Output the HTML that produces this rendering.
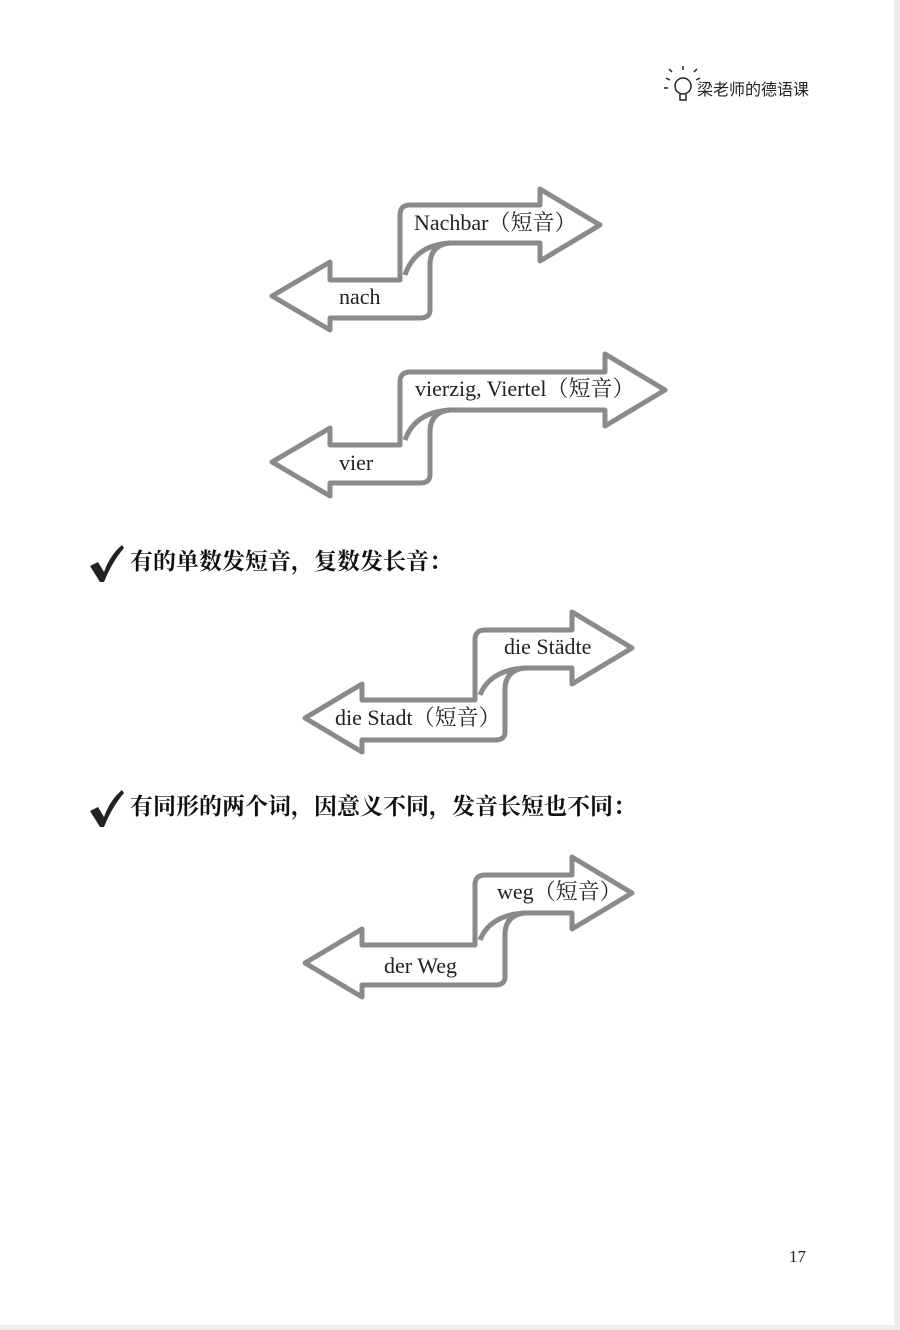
<!DOCTYPE html>
<html><head><meta charset="utf-8"><style>
html,body{margin:0;padding:0;background:#fff;}
body{width:900px;height:1330px;position:relative;overflow:hidden;font-family:"Liberation Serif","Noto Serif CJK SC",serif;}
.t{position:absolute;font-size:22px;color:#222;white-space:nowrap;line-height:1;}
.h{position:absolute;font-family:"Liberation Serif","Noto Serif CJK SC",serif;font-weight:bold;font-size:23px;color:#111;white-space:nowrap;line-height:1;}
</style></head><body>
<div style="position:absolute;right:0;top:0;width:6px;height:1330px;background:#eee"></div>
<div style="position:absolute;left:0;bottom:0;width:900px;height:5px;background:#eee"></div>
<svg width="900" height="1330" style="position:absolute;left:0;top:0">
<g fill="#fff" stroke="#8a8a8a" stroke-width="5" stroke-linejoin="round">
<path d="M272,296 L330,262 L330,280 L400,280 L400,215 Q400,205 410,205 L540,205 L540,189 L600,225 L540,261 L540,243 L450,243 Q430,245 430,265 L430,310 Q430,318 420,318 L330,318 L330,330 Z"/>
<path d="M405,275 Q415,245 450,243" fill="none"/>
<path d="M272,462 L330,428 L330,445 L400,445 L400,382 Q400,372 410,372 L605,372 L605,354 L665,390 L605,426 L605,410 L450,410 Q430,412 430,432 L430,475 Q430,483 420,483 L330,483 L330,496 Z"/>
<path d="M405,440 Q415,412 450,410" fill="none"/>
<path d="M305,718 L362,684 L362,700 L475,700 L475,640 Q475,630 485,630 L572,630 L572,612 L632,648 L572,684 L572,668 L525,668 Q505,670 505,690 L505,732 Q505,740 495,740 L362,740 L362,752 Z"/>
<path d="M480,695 Q490,670 525,668" fill="none"/>
<path d="M305,963 L362,929 L362,945 L475,945 L475,885 Q475,875 485,875 L572,875 L572,857 L632,893 L572,929 L572,913 L525,913 Q505,915 505,935 L505,977 Q505,985 495,985 L362,985 L362,997 Z"/>
<path d="M480,940 Q490,915 525,913" fill="none"/>
</g>
<g stroke="#222" stroke-width="1.5" fill="none">
<circle cx="683" cy="86" r="8"/>
<path d="M680,94 L680,100 L686,100 L686,94"/>
<path d="M670,80 l-4,-2 M672,72 l-3,-3 M683,70 v-4 M694,72 l3,-3 M696,80 l4,-2 M668,88 h-4"/>
</g>
<path d="M90,566 L98,562 L104,572 Q110,555 122,545 L124,548 Q112,562 104,582 L100,582 Z" fill="#222"/>
<path d="M90,811 L98,807 L104,817 Q110,800 122,790 L124,793 Q112,807 104,827 L100,827 Z" fill="#222"/>
</svg>
<div class="t" style="left:697px;top:80px;font-size:16px;font-family:'Noto Sans CJK SC',sans-serif">梁老师的德语课</div>
<div class="t" style="left:414px;top:212px">Nachbar（短音）</div>
<div class="t" style="left:339px;top:286px">nach</div>
<div class="t" style="left:415px;top:378px">vierzig, Viertel（短音）</div>
<div class="t" style="left:339px;top:452px">vier</div>
<div class="t" style="left:504px;top:636px">die Städte</div>
<div class="t" style="left:335px;top:707px">die Stadt（短音）</div>
<div class="t" style="left:497px;top:881px">weg（短音）</div>
<div class="t" style="left:384px;top:955px">der Weg</div>
<div class="h" style="left:130px;top:550px">有的单数发短音，复数发长音：</div>
<div class="h" style="left:130px;top:795px">有同形的两个词，因意义不同，发音长短也不同：</div>
<div class="t" style="left:789px;top:1248px;font-size:17px">17</div>
</body></html>
